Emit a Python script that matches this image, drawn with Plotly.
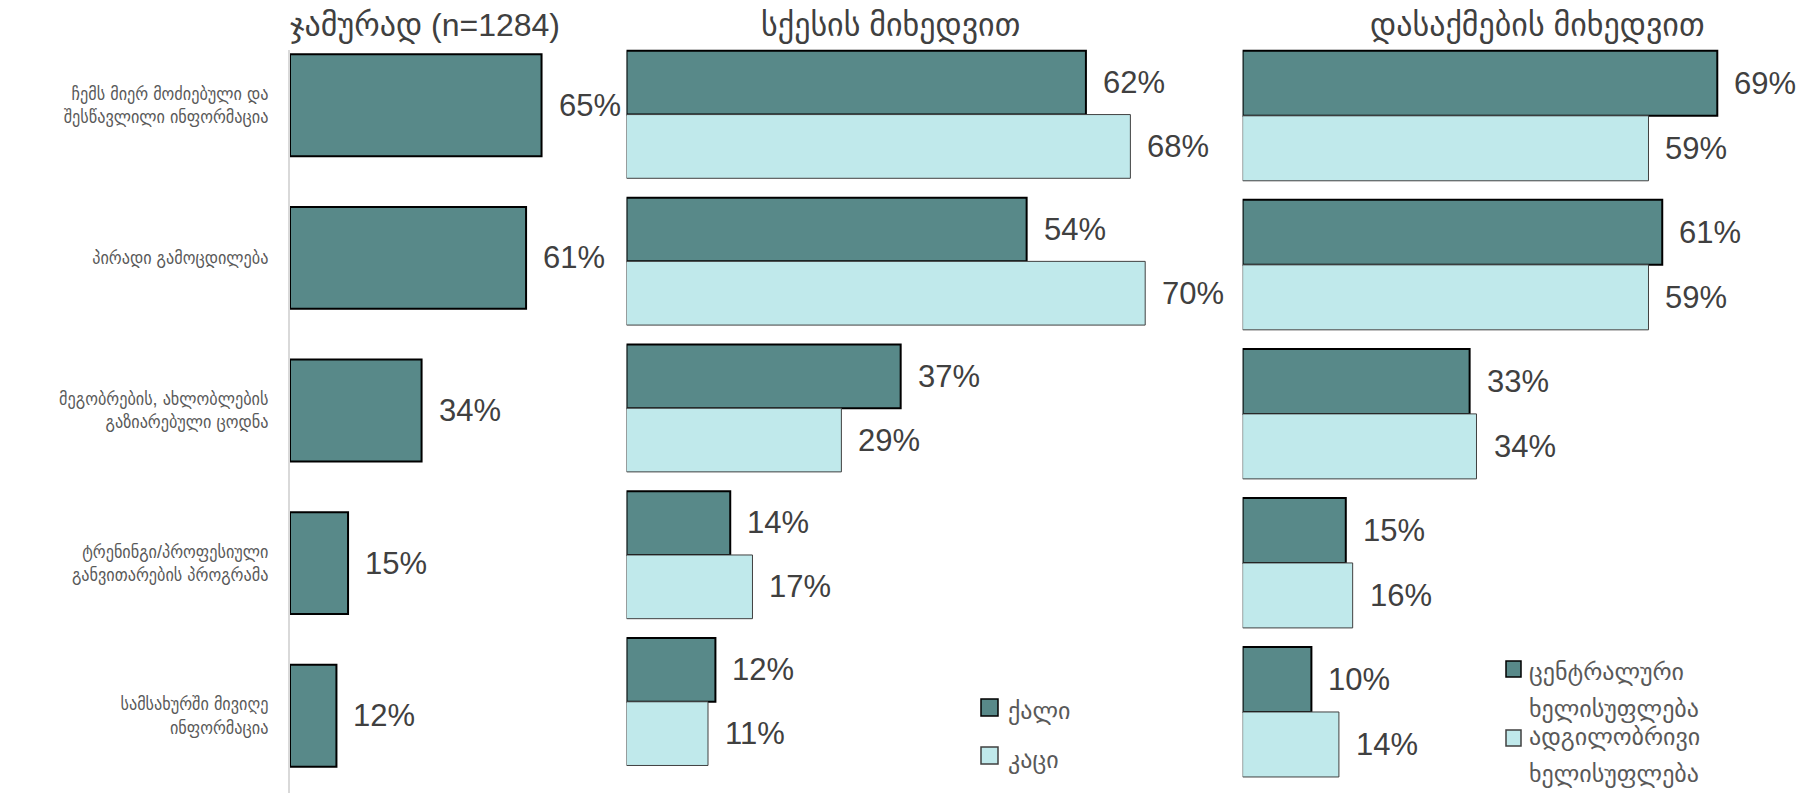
import plotly.graph_objects as go

# ---------------- data ----------------
categories = [
    "ჩემს მიერ მოძიებული და<br>შესწავლილი ინფორმაცია",
    "პირადი გამოცდილება",
    "მეგობრების, ახლობლების<br>გაზიარებული ცოდნა",
    "ტრენინგი/პროფესიული<br>განვითარების პროგრამა",
    "სამსახურში მივიღე<br>ინფორმაცია",
]
total_values = [65, 61, 34, 15, 12]

gender_names = ["ქალი", "კაცი"]
female_values = [62, 54, 37, 14, 12]
male_values = [68, 70, 29, 17, 11]

employ_names = ["ცენტრალური<br>ხელისუფლება", "ადგილობრივი<br>ხელისუფლება"]
central_values = [69, 61, 33, 15, 10]
local_values = [59, 59, 34, 16, 14]

titles = ["ჯამურად (n=1284)", "სქესის მიხედვით", "დასაქმების მიხედვით"]

# ---------------- style ----------------
W, H = 1816, 800
DARK = "#588989"
LIGHT = "#C0E9EB"
TXT = "#404040"
LBL = "#595959"
FONT = "Liberation Sans, DejaVu Sans, sans-serif"
FONT_COND = "Liberation Sans, DejaVu Sans Condensed, DejaVu Sans, sans-serif"


def px_x(p):
    return p / W


def px_y(p):
    return 1 - p / H


fig = go.Figure()

# Panel 1: total
fig.add_trace(go.Bar(
    x=total_values, y=categories, orientation="h", width=0.668,
    marker=dict(color=DARK, line=dict(color="#000000", width=2)),
    xaxis="x", yaxis="y", showlegend=False, name="ჯამურად",
))

# Panel 2: gender
w2 = 0.434
fig.add_trace(go.Bar(
    x=female_values, y=categories, orientation="h", width=w2, offset=-w2,
    marker=dict(color=DARK, line=dict(color="#000000", width=2)),
    name=gender_names[0], xaxis="x2", yaxis="y2", showlegend=False,
))
fig.add_trace(go.Bar(
    x=male_values, y=categories, orientation="h", width=w2, offset=0,
    marker=dict(color=LIGHT, line=dict(color="#404040", width=1)),
    name=gender_names[1], xaxis="x2", yaxis="y2", showlegend=False,
))

# Panel 3: employment
w3 = 0.436
fig.add_trace(go.Bar(
    x=central_values, y=categories, orientation="h", width=w3, offset=-w3,
    marker=dict(color=DARK, line=dict(color="#000000", width=2)),
    name=employ_names[0], xaxis="x3", yaxis="y3", showlegend=False,
))
fig.add_trace(go.Bar(
    x=local_values, y=categories, orientation="h", width=w3, offset=0,
    marker=dict(color=LIGHT, line=dict(color="#404040", width=1)),
    name=employ_names[1], xaxis="x3", yaxis="y3", showlegend=False,
))

annotations = []
shapes = []
lab_font = dict(family=FONT, size=31, color=TXT)
for c, v in zip(categories, total_values):
    annotations.append(dict(x=v, y=c, xref="x", yref="y", text=f"{v}%",
                            showarrow=False, xanchor="left", xshift=15, font=lab_font))
for c, a, b in zip(categories, female_values, male_values):
    annotations.append(dict(x=a, y=c, xref="x2", yref="y2", text=f"{a}%",
                            showarrow=False, xanchor="left", xshift=15, yshift=32, font=lab_font))
    annotations.append(dict(x=b, y=c, xref="x2", yref="y2", text=f"{b}%",
                            showarrow=False, xanchor="left", xshift=15, yshift=-32, font=lab_font))
for c, a, b in zip(categories, central_values, local_values):
    annotations.append(dict(x=a, y=c, xref="x3", yref="y3", text=f"{a}%",
                            showarrow=False, xanchor="left", xshift=15, yshift=32.5, font=lab_font))
    annotations.append(dict(x=b, y=c, xref="x3", yref="y3", text=f"{b}%",
                            showarrow=False, xanchor="left", xshift=15, yshift=-32.5, font=lab_font))

# panel titles
title_pos = [(425, 25), (890, 25), (1537, 25)]
for t, (tx, ty) in zip(titles, title_pos):
    annotations.append(dict(x=px_x(tx), y=px_y(ty), xref="paper", yref="paper", text=t,
                            showarrow=False, xanchor="center", yanchor="middle",
                            font=dict(family=FONT, size=32, color=TXT)))

# legends (drawn manually to match the original's large swatches)
leg_font = dict(family=FONT, size=24, color=LBL)
legend_items = [
    # (x0, y0, x1, y1) swatch box, fill, outline, text lines with y
    ((981, 699, 998, 716), DARK, "#000000", [(gender_names[0], 711)], 1006),
    ((981, 747, 998, 764), LIGHT, "#404040", [(gender_names[1], 760)], 1006),
    ((1506, 661, 1521, 677), DARK, "#000000",
     [(line, y) for line, y in zip(employ_names[0].split("<br>"), (672, 709))], 1527),
    ((1506, 730, 1521, 746), LIGHT, "#404040",
     [(line, y) for line, y in zip(employ_names[1].split("<br>"), (737, 774))], 1527),
]
for (x0, y0, x1, y1), fill, edge, lines, tx in legend_items:
    shapes.append(dict(type="rect", xref="paper", yref="paper",
                       x0=px_x(x0), x1=px_x(x1), y0=px_y(y1), y1=px_y(y0),
                       fillcolor=fill, line=dict(color=edge, width=1.5)))
    for txt, ty in lines:
        annotations.append(dict(x=px_x(tx), y=px_y(ty), xref="paper", yref="paper",
                                text=txt, showarrow=False, xanchor="left",
                                yanchor="middle", font=leg_font))

hidden_x = dict(visible=False, showgrid=False, zeroline=False, fixedrange=True)
fig.update_layout(
    width=W, height=H,
    margin=dict(l=0, r=0, t=0, b=0),
    paper_bgcolor="white", plot_bgcolor="rgba(0,0,0,0)",
    barmode="overlay",
    font=dict(family=FONT, color=TXT),
    xaxis=dict(domain=[px_x(290), px_x(599.6)], range=[0, 80], **hidden_x),
    xaxis2=dict(domain=[px_x(626.5), px_x(1219.3)], range=[0, 80], **hidden_x),
    xaxis3=dict(domain=[px_x(1242.6), px_x(1813.6)], range=[0, 83], **hidden_x),
    yaxis=dict(domain=[px_y(793), px_y(50)], range=[4.506, -0.362], type="category",
               showline=True, linecolor="#D9D9D9", linewidth=2, showgrid=False,
               zeroline=False, ticks="", ticklabelstandoff=16,
               tickfont=dict(family=FONT_COND, size=18, color=LBL), anchor="x",
               fixedrange=True),
    yaxis2=dict(domain=[px_y(790), px_y(40)], range=[4.601, -0.508], type="category",
                visible=False, anchor="x2", fixedrange=True),
    yaxis3=dict(domain=[px_y(795), px_y(40)], range=[4.557, -0.5086], type="category",
                visible=False, anchor="x3", fixedrange=True),
    annotations=annotations,
    shapes=shapes,
    showlegend=False,
)

fig.write_html("out.html", config={"displayModeBar": False},
               post_script="document.body.style.margin='0';")
